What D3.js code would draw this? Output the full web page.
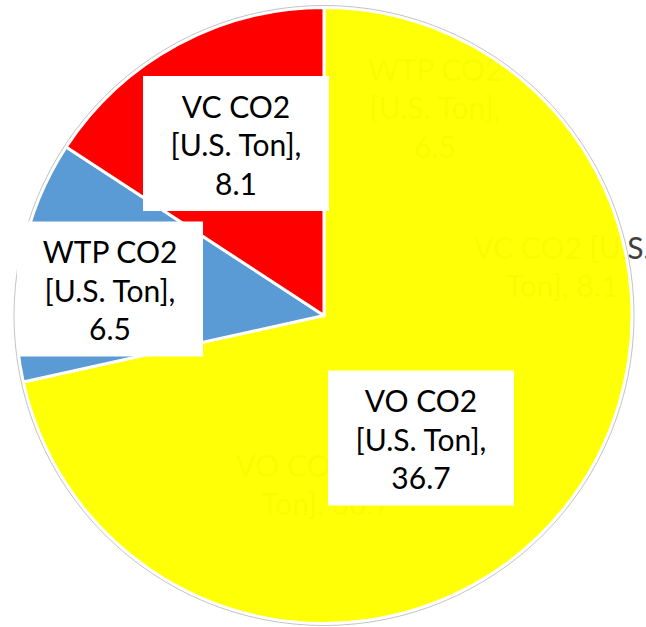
<!DOCTYPE html>
<html>
<head>
<meta charset="utf-8">
<script src="https://cdn.jsdelivr.net/npm/d3@7"></script>
<style>
  html, body { margin: 0; padding: 0; background: #fff; }
  svg { display: block; }
  text { font-family: Lato, "Noto Sans", sans-serif; }
</style>
</head>
<body>
<svg id="chart" width="646" height="627"></svg>
<script>
// Emission categories and their CO2 totals (U.S. tons), clockwise from 12 o'clock
const categories = ["VO CO2", "WTP CO2", "VC CO2"];
const unitLabel = "[U.S. Ton]";
const values = [36.7, 6.5, 8.1];
const sliceColors = ["#FFFF00", "#5B9BD5", "#FF0000"];

// Placement of the boxed data labels (centres), one per category
const labelLayout = {
  "VO CO2":  { cx: 421, cy: 438 },
  "WTP CO2": { cx: 110, cy: 289 },
  "VC CO2":  { cx: 236, cy: 143.5 }
};

// Faint default labels left underneath the pie (line breaks as wrapped)
const ghostLabels = [
  { cat: "WTP CO2", x: 435, y: 70,  lines: d => [d.cat, unitLabel + ",", d.value] },
  { cat: "VC CO2",  x: 562, y: 248, lines: d => [d.cat + " [U.S.", "Ton], " + d.value] },
  { cat: "VO CO2",  x: 326, y: 466, lines: d => [d.cat + " [U.S.", "Ton], " + d.value] }
];

const data = categories.map((c, i) => ({ cat: c, value: values[i], color: sliceColors[i] }));
const byCat = new Map(data.map(d => [d.cat, d]));

const svg = d3.select("#chart");
const cx = 324, cy = 315.5, radius = 308;
const fontSize = 30, lineGap = 38.5, capShift = 10.5;

const color = d3.scaleOrdinal().domain(categories).range(sliceColors);
const pie = d3.pie().sort(null).value(d => d.value);
const arc = d3.arc().innerRadius(0).outerRadius(radius);

const root = svg.append("g").attr("transform", `translate(${cx},${cy})`);

// ghost labels sit beneath the (nearly opaque) pie
const ghost = svg.append("g").lower();
ghostLabels.forEach(g => {
  const d = byCat.get(g.cat);
  const ls = g.lines(d);
  ghost.append("text")
    .attr("text-anchor", "middle")
    .attr("font-size", fontSize)
    .attr("fill", "#404040")
    .selectAll("tspan").data(ls).join("tspan")
    .attr("x", g.x)
    .attr("y", (t, i) => g.y + i * lineGap + capShift)
    .text(t => t);
});

// slices
root.selectAll("path.slice")
  .data(pie(data))
  .join("path")
  .attr("class", "slice")
  .attr("d", arc)
  .attr("fill", d => color(d.data.cat))
  .attr("fill-opacity", d => d.data.cat === "VO CO2" ? 0.975 : 1)
  .attr("stroke", "#fff")
  .attr("stroke-width", 3)
  .attr("stroke-linejoin", "round");

// soft outer rim
root.append("circle")
  .attr("r", radius + 2)
  .attr("fill", "none")
  .attr("stroke", "#c4c4c4")
  .attr("stroke-width", 1);

// boxed data labels
const boxW = 186, boxH = 135;
const labels = svg.append("g")
  .selectAll("g.label")
  .data(data)
  .join("g")
  .attr("class", "label")
  .attr("transform", d => `translate(${labelLayout[d.cat].cx},${labelLayout[d.cat].cy})`);

labels.append("rect")
  .attr("x", -boxW / 2)
  .attr("y", -boxH / 2)
  .attr("width", boxW)
  .attr("height", boxH)
  .attr("fill", "#fff");

labels.append("text")
  .attr("text-anchor", "middle")
  .attr("font-size", fontSize)
  .attr("fill", "#000")
  .selectAll("tspan")
  .data(d => [d.cat, unitLabel + ",", String(d.value)])
  .join("tspan")
  .attr("x", 0)
  .attr("y", (t, i) => (i - 1) * lineGap + 2 + capShift)
  .text(t => t);
</script>
</body>
</html>
